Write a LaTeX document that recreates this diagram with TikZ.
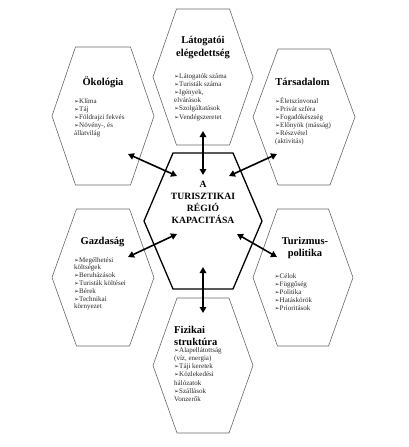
\documentclass[tikz,border=0pt]{standalone}
\usepackage{fontspec}
\setmainfont{Liberation Serif}
\newfontfamily\symfont{DejaVu Sans}
\usetikzlibrary{arrows.meta}
\newcommand\itm{{\symfont\fontsize{6}{6}\selectfont ➢}}
\newcommand\myhex[6]{\draw[#1] ({#2-#4},#3) -- ({#2-#5},{#3-#6}) -- ({#2+#5},{#3-#6}) -- ({#2+#4},#3) -- ({#2+#5},{#3+#6}) -- ({#2-#5},{#3+#6}) -- cycle;}
\tikzset{
  outerhex/.style={draw=black!60, line width=0.6pt, line join=miter},
  centerhex/.style={draw=black, line width=1.3pt, line join=miter},
  ttl/.style={font=\bfseries\fontsize{10.5}{12}\selectfont, inner sep=0pt, anchor=base},
  ctxt/.style={font=\bfseries\fontsize{9.6}{11}\selectfont, inner sep=0pt, anchor=base},
  item/.style={font=\fontsize{7}{8}\selectfont, inner sep=0pt, anchor=base west, text=black!85},
  conn/.style={line width=1.6pt, {Triangle[length=6pt,width=6.5pt]}-{Triangle[length=6pt,width=6.5pt]}}
}
\begin{document}
\begin{tikzpicture}[x=1pt,y=-1pt]
\useasboundingbox (0,0) rectangle (408,447);
% hexagons
\myhex{outerhex}{203}{77}{50}{26.5}{68}
\myhex{outerhex}{103}{116}{51}{27.5}{69}
\myhex{outerhex}{304}{117}{51}{26}{68}
\myhex{outerhex}{103}{277.5}{51}{26.5}{68.5}
\myhex{outerhex}{303}{277.5}{50}{25.5}{68.5}
\myhex{outerhex}{203}{365.5}{50}{26}{67.5}
\myhex{centerhex}{203}{221}{59}{30}{68}
% central text
\node[ctxt] (c1) at (203,187.5) {A};
\node[ctxt] (c2) at (203,199.5) {TURISZTIKAI};
\node[ctxt] (c3) at (203,211.8) {RÉGIÓ};
\node[ctxt] (c4) at (203,223.8) {KAPACITÁSA};
% top: Látogatói elégedettség
\node[ttl] (t1) at (203,43.5) {Látogatói};
\node[ttl] (t2) at (203,56) {elégedettség};
\foreach \t [count=\i from 0] in {{\itm Látogatók száma},{\itm Turisták száma},{\itm Igények,},{elvárások},{\itm Szolgáltatások},{\itm Vendégszeretet}}
  \node[item] (ti\i) at ({174},{78.5+8.1*\i}) {\t};
% Ökológia
\node[ttl] (o1) at (103,85) {Ökológia};
\foreach \t [count=\i from 0] in {{\itm Klíma},{\itm Táj},{\itm Földrajzi fekvés},{\itm Növény-, és},{állatvilág}}
  \node[item] (oi\i) at ({74},{103.5+8*\i}) {\t};
% Társadalom
\node[ttl] (s1) at (302.5,85) {Társadalom};
\foreach \t [count=\i from 0] in {{\itm Életszínvonal},{\itm Privát szféra},{\itm Fogadókészség},{\itm Előnyök (másság)},{\itm Részvétel},{(aktivitás)}}
  \node[item] (si\i) at ({275},{103.5+8*\i}) {\t};
% Gazdaság
\node[ttl] (g1) at (102.5,244) {Gazdaság};
\foreach \t [count=\i from 0] in {{\itm Megélhetési},{költségek},{\itm Beruházások},{\itm Turisták költései},{\itm Bérek},{\itm Technikai},{környezet}}
  \node[item] (gi\i) at ({74},{262+7.8*\i}) {\t};
% Turizmus-politika
\node[ttl] (p1) at (305,244) {Turizmus-};
\node[ttl] (p2) at (305,256) {politika};
\foreach \t [count=\i from 0] in {{\itm Célok},{\itm Függőség},{\itm Politika},{\itm Hatáskörök},{\itm Prioritások}}
  \node[item] (pi\i) at ({274.5},{278+8.1*\i}) {\t};
% Fizikai struktúra
\node[ttl, anchor=base west] (f1) at (174,333) {Fizikai};
\node[ttl, anchor=base west] (f2) at (174,345) {struktúra};
\foreach \t [count=\i from 0] in {{\itm Alapellátottság},{(víz, energia)},{\itm Táji keretek},{\itm Közlekedési},{hálózatok},{\itm Szállások},{Vonzerők}}
  \node[item] (fi\i) at ({174},{352+8.3*\i}) {\t};
% arrow end points
\coordinate (aT1) at (203,131);  \coordinate (aT2) at (203,175);
\coordinate (aB1) at (203,267);  \coordinate (aB2) at (203,313);
\coordinate (aTL1) at (128,154); \coordinate (aTL2) at (177,176);
\coordinate (aTR1) at (277,154); \coordinate (aTR2) at (229,176);
\coordinate (aBL1) at (128,257); \coordinate (aBL2) at (177,234);
\coordinate (aBR1) at (237,234); \coordinate (aBR2) at (277,257);
\draw[conn] (aT1) -- (aT2);
\draw[conn] (aB1) -- (aB2);
\draw[conn] (aTL1) -- (aTL2);
\draw[conn] (aTR1) -- (aTR2);
\draw[conn] (aBL1) -- (aBL2);
\draw[conn] (aBR1) -- (aBR2);
\end{tikzpicture}
\end{document}
